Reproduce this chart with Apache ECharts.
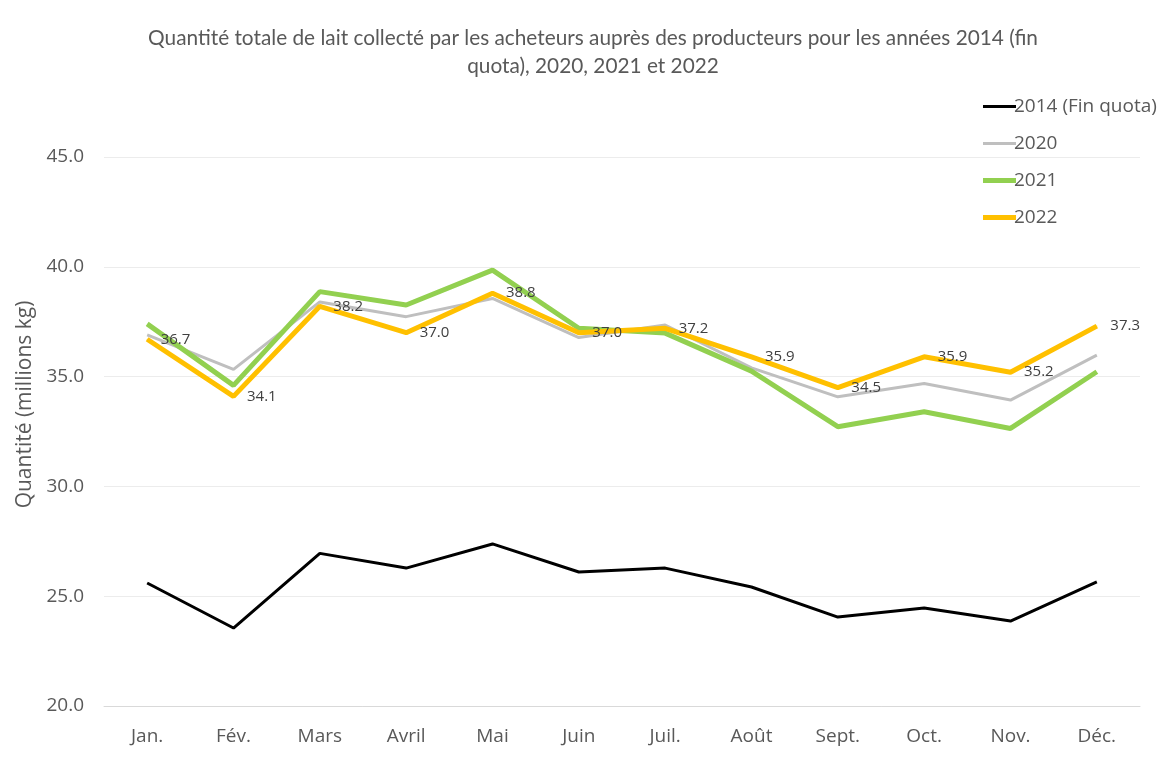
<!DOCTYPE html>
<html>
<head>
<meta charset="utf-8">
<script src="https://cdn.jsdelivr.net/npm/echarts@6/dist/echarts.min.js"></script>
<style>
  html, body { margin: 0; padding: 0; background: #fff; }
  #chart { width: 1165px; height: 765px; }
</style>
</head>
<body>
<div id="chart"></div>
<script>
// données
const mois = ['Jan.', 'Fév.', 'Mars', 'Avril', 'Mai', 'Juin', 'Juil.', 'Août', 'Sept.', 'Oct.', 'Nov.', 'Déc.'];
const data2014 = [25.6, 23.55, 26.95, 26.28, 27.38, 26.1, 26.28, 25.42, 24.05, 24.46, 23.87, 25.65];
const data2020 = [36.9, 35.33, 38.4, 37.73, 38.56, 36.78, 37.35, 35.4, 34.08, 34.69, 33.93, 35.98];
const data2021 = [37.4, 34.6, 38.87, 38.26, 39.85, 37.2, 36.98, 35.25, 32.72, 33.4, 32.64, 35.22];
const data2022 = [36.7, 34.1, 38.2, 37.0, 38.8, 37.0, 37.2, 35.9, 34.5, 35.9, 35.2, 37.3];

const chart = echarts.init(document.getElementById('chart'));
const font = '"Open Sans", sans-serif';
const titleFont = 'Lato, sans-serif';

// icône de légende : trait horizontal d'épaisseur donnée, centré dans une boîte de 5px
function trait(ep) {
    const y0 = (5 - ep) / 2, y1 = y0 + ep;
    return 'path://M0,0 L33,0 L33,0.01 Z M0,5 L33,5 L33,4.99 Z M0,' + y0 + ' L33,' + y0 + ' L33,' + y1 + ' L0,' + y1 + ' Z';
}

const option = {
    animation: false,
    backgroundColor: '#fff',
    title: {
        text: 'Quantité totale de lait collecté par les acheteurs auprès des producteurs pour les années 2014 (fin\nquota), 2020, 2021 et 2022',
        left: 588,
        textAlign: 'center',
        top: 19,
        textStyle: { fontFamily: titleFont, fontSize: 20.8, fontWeight: 'normal', color: '#595959', lineHeight: 28 }
    },
    legend: {
        orient: 'vertical',
        left: 978,
        top: 90,
        itemWidth: 33,
        itemHeight: 5,
        itemGap: 14,
        textStyle: { fontFamily: font, fontSize: 19, color: '#595959', padding: [0, 0, 0, -7], lineHeight: 23 },
        data: [
            { name: '2014 (Fin quota)', icon: trait(3) },
            { name: '2020', icon: trait(3) },
            { name: '2021', icon: trait(5) },
            { name: '2022', icon: trait(5) }
        ]
    },
    grid: { left: 104, right: 25, top: 157, bottom: 59 },
    xAxis: {
        type: 'category',
        data: mois,
        boundaryGap: true,
        axisLine: { lineStyle: { color: '#d9d9d9' } },
        axisTick: { show: false },
        axisLabel: { fontFamily: font, fontSize: 19, color: '#595959', margin: 21 }
    },
    yAxis: {
        type: 'value',
        min: 20,
        max: 45,
        interval: 5,
        name: 'Quantité (millions kg)',
        nameLocation: 'middle',
        nameGap: 66,
        nameTextStyle: { fontFamily: font, fontSize: 21, color: '#595959', padding: [0, 0, 0, 54] },
        axisLabel: { fontFamily: font, fontSize: 19, color: '#595959', margin: 20, formatter: v => v.toFixed(1) },
        splitLine: { lineStyle: { color: '#ececec' } }
    },
    series: [
        {
            name: '2014 (Fin quota)', type: 'line', data: data2014, symbol: 'none',
            lineStyle: { color: '#000000', width: 3 }, itemStyle: { color: '#000000' }
        },
        {
            name: '2020', type: 'line', data: data2020, symbol: 'none',
            lineStyle: { color: '#bfbfbf', width: 3 }, itemStyle: { color: '#bfbfbf' }
        },
        {
            name: '2021', type: 'line', data: data2021, symbol: 'none',
            lineStyle: { color: '#92d050', width: 5 }, itemStyle: { color: '#92d050' }
        },
        {
            name: '2022', type: 'line', data: data2022,
            symbol: 'circle', symbolSize: 1, showSymbol: true,
            lineStyle: { color: '#ffc000', width: 5 }, itemStyle: { color: '#ffc000' },
            label: {
                show: true, position: 'right', distance: 13,
                fontFamily: font, fontSize: 15, color: '#404040',
                formatter: p => p.value.toFixed(1)
            }
        }
    ]
};

chart.setOption(option);
</script>
</body>
</html>
